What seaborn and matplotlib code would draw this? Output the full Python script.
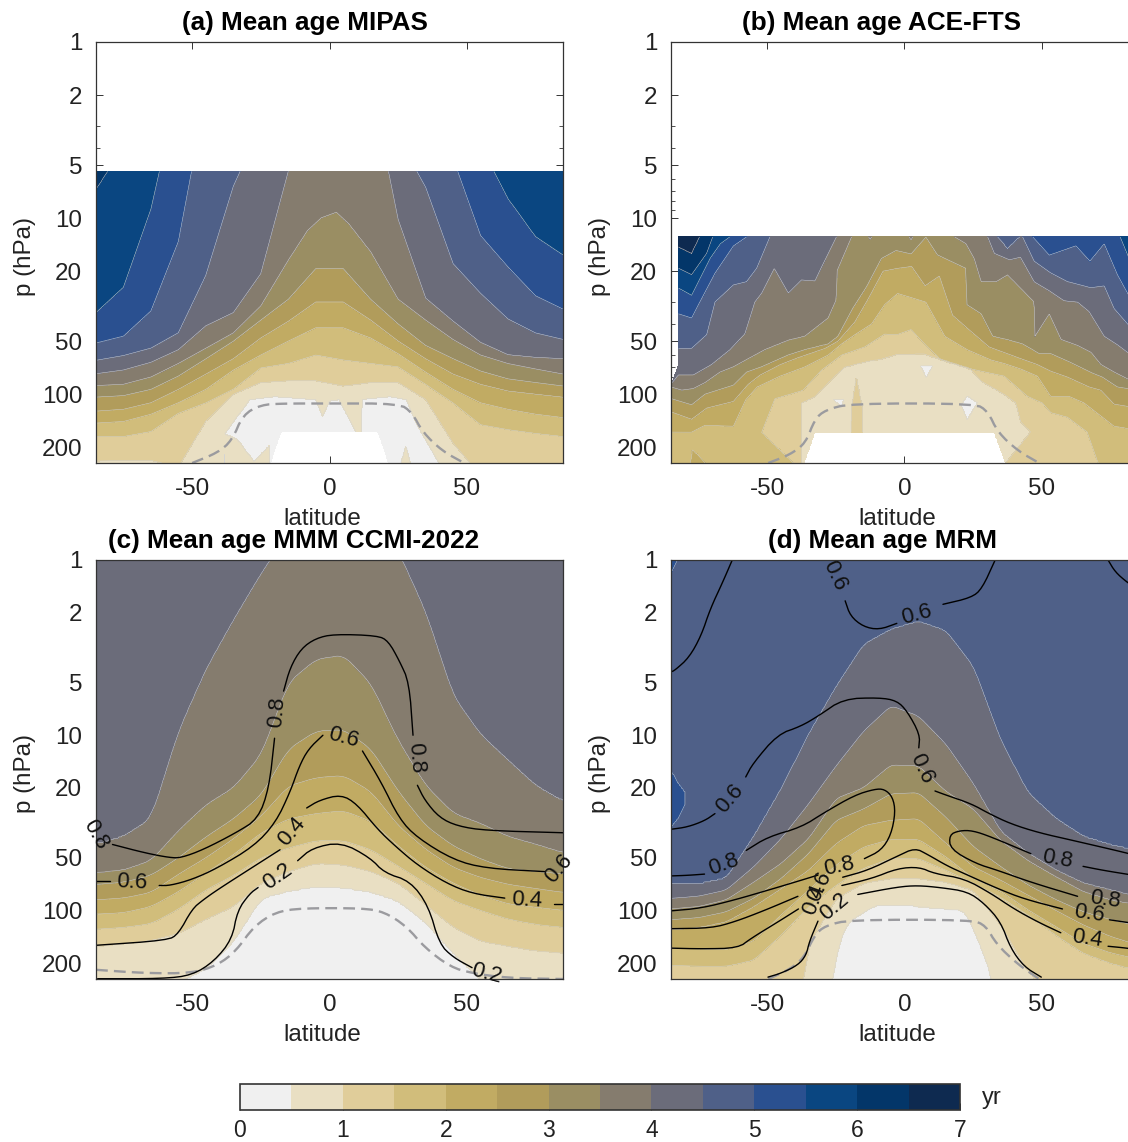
import numpy as np
import matplotlib
matplotlib.use("Agg")
import matplotlib.pyplot as plt
from matplotlib.colors import ListedColormap, BoundaryNorm
from matplotlib.cm import ScalarMappable
from matplotlib.ticker import FixedLocator, NullFormatter
import seaborn as sns

# band colours of the colour bar, 0 to 7 yr in steps of 0.5
band_colors = ["#f0f0f0", "#e9dfc3", "#e0cd9a", "#d1bd7b", "#c1ab63", "#b19c5b", "#9a8e63",
               "#857c6e", "#6b6c7a", "#4f6088", "#2a5090", "#0a4681", "#033669", "#0e2a50"]
age_bounds = np.arange(0, 7.5, 0.5)
p_ticks = [1, 2, 5, 10, 20, 50, 100, 200]
p_minor = [3, 4, 6, 7, 8, 9, 30, 40, 60, 70, 80, 90]
lat_ticks = [-50, 0, 50]
bar_ticks = [0, 1, 2, 3, 4, 5, 6, 7]

# Pressure (hPa) at which mean age crosses a given value, read per latitude.
# Values below 1 hPa or past the panel bottom only steer the crossing at the frame.
cols = [-85, -75, -65, -55, -45, -35, -25, -15, -5, 5, 15, 25, 35, 45, 55, 65, 75, 85]

# (a) MIPAS
a_p_60 = [6.9, 4, 2.5, .5, .5, .5, .5, .5, .5, .5, .5, .5, .5, .5, .5, .5, .5, .5]
a_p_55 = [34.6, 24.8, 8.9, 1.8, 1, .8, .6, .6, .6, .6, .6, .6, .7, 1, 3.9, 7.8, 12.8, 16.3]
a_p_50 = [51.4, 47, 33.8, 13.6, 2, 1.2, .8, .7, .6, .6, .7, .8, 1, 4.6, 12.6, 19, 27.7, 33]
a_p_45 = [64.4, 60.5, 55, 45, 21.2, 6.6, 3, 1.6, 1, 1, 1.4, 3.5, 6.7, 18.2, 26.8, 37.5, 45, 49]
a_p_40 = [76.7, 73, 66, 56, 41, 34.6, 20.8, 5.43, 2, 1, 1.7, 10.2, 28.6, 38.6, 51, 60, 62, 63]
a_lat_35 = [-85, -75, -65, -55, -45, -35, -25, -15, -8, -3, 2.5, 7, 15, 25, 35, 45, 55, 65, 75, 85]
a_p_35 = [89.5, 88, 80, 67, 55, 45, 31.6, 17.4, 11.8, 10, 9.3, 10.8, 15.6, 29, 38, 49, 60, 67, 72, 77]
a_p_30 = [104, 102, 94, 79, 63, 50, 38, 29, 19.4, 19.4, 29, 40, 53, 63, 74, 82, 86, 90]
a_p_25 = [125, 122, 112, 94, 77, 63, 48, 38.6, 30, 30, 38, 50, 63, 77, 88, 96, 100, 104]
a_p_20 = [146, 143, 130, 112, 94, 73, 60, 50, 42, 42, 48, 59, 75, 94, 112, 122, 130, 136]
a_p_15 = [174, 174, 163, 128, 112, 94, 71, 67, 60, 64, 67, 70, 88, 112, 149, 159, 167, 174]
a_p_10 = [240, 238, 238, 260, 142, 100, 86, 84, 84, 90, 86, 86, 107, 190, 290, 300, 300, 300]
a_lat_05 = [-85, -38.6, -38, -29, -20, -5, -2.5, 0, 3.5, 10.2, 11.6, 11.8, 13.5, 22, 28, 32, 40, 41, 85]
a_p_05 = [320, 320, 166, 107, 103, 107, 133, 109, 107, 170, 170, 107, 106, 103, 107, 150, 248, 320, 320]

# (b) ACE-FTS
b_lat_65 = [-85, -82.3, -77.5, -74.5, -65, 85]
b_p_65 = [14.5, 14.7, 16, 12.8, 8, 3]
b_lat_60 = [-85, -82.3, -77.5, -72, -69.8, -60, 0, 60, 85]
b_p_60 = [19, 19.3, 21, 15.9, 12.8, 8, 3, 6, 10]
b_lat_55 = [-85, -82.3, -77.5, -70.8, -67, -63.5, -50, 0, 60, 78.5, 81.2, 85]
b_p_55 = [24.5, 25, 27.5, 17, 14, 12.8, 8, 4, 8, 12.8, 16.2, 22]
b_lat_50 = [-85, -82.3, -77.5, -75, -69, -62.3, -57.5, -50, 0, 40, 46.6, 52.7, 62.4, 67.5, 72.7, 77.5, 81.2, 85]
b_p_50 = [34, 35, 37, 31, 20.6, 14.4, 12.8, 9, 5, 9, 12.8, 16.3, 14.4, 17.6, 14, 21, 26.8, 33]
b_lat_45 = [-85, -82.3, -77.5, -72, -69, -62.3, -57.5, -53.8, -49, -40, 0, 35, 43, 47.2, 53.2, 59.3, 67.8, 72.7, 76.3, 81.2, 85]
b_p_45 = [60, 55, 55, 46, 30, 24, 23, 19.3, 12.8, 9, 6, 9, 12.8, 17.6, 20.5, 23, 24.9, 24.3, 32.7, 40, 46]
b_lat_40 = [-85, -82.3, -76.9, -70.2, -63.5, -58.1, -54.5, -52, -47.4, -42.3, -37.5, -32.6, -30.2, -24.8, -20, 0, 20,
            30.3, 32.7, 38.2, 42.2, 47.2, 52.7, 58.1, 63, 67.2, 72.7, 77.5, 81.2, 85]
b_p_40 = [88, 78, 78, 68, 56, 45.5, 30, 26.7, 19.3, 26.7, 22.5, 22.8, 19, 12.8, 10, 8, 9,
          12.8, 15.9, 17.3, 16.7, 23, 25.9, 29.5, 30, 34, 47, 52.5, 58, 62]
b_lat_35 = [-85, -81.1, -76.9, -72.6, -67.2, -62.3, -56.9, -50.8, -42.3, -36.3, -27.8, -24.8, -24.6, -19.3, -15, -12.5,
            -10, 0, 2.4, 5, 18.2, 22.4, 25.4, 27.9, 33.3, 37.5, 47.2, 47.5, 52.7, 57, 63, 67.9, 71.5, 76.3, 85]
b_p_35 = [91, 95, 93, 86, 75, 70, 63, 56, 49.5, 47, 37, 29, 20, 12.8, 11.5, 13.2,
          11.5, 11.5, 13.4, 11, 12.8, 14, 17, 23, 23, 21, 30, 47, 35, 49, 53, 58, 68, 75, 88]
b_lat_30 = [-85, -77.5, -72.6, -62.3, -57.5, -52, -42.3, -36.3, -27.8, -24.2, -18.7, -13.8, -8.4, -3.1, 2.4, 7.8, 12,
            22.4, 22.6, 27.9, 32.1, 38.2, 43, 49.1, 53.3, 59.9, 68.4, 72, 77.5, 85]
b_p_30 = [106, 115, 100, 89, 75, 70, 60, 56, 52, 47, 32.4, 24.6, 17, 15.3, 16, 12.8, 16.2,
          19.3, 31, 35, 47, 49.5, 52, 59, 59, 65.5, 76, 80, 91, 95]
b_lat_25 = [-85, -77.5, -72, -62.3, -56.9, -52.6, -45.3, -38.7, -29, -24.2, -18.1, -13.2, -7.8, -2.5, 2.6, 7.5, 12.7,
            17.5, 22.9, 30.8, 37.5, 42.4, 48.4, 53.2, 59.3, 67.2, 71.5, 76.3, 85]
b_p_25 = [126, 139, 120, 110, 88, 78, 68, 62, 55, 50, 39, 28.7, 20, 19.3, 18.8, 24.3, 21.3,
          35.7, 42.3, 54, 59, 63, 68, 74, 80, 91, 95, 114, 120]
b_lat_20 = [-85, -77.5, -72.6, -62.3, -57.9, -53.7, -45.3, -36.3, -27.8, -23, -18.1, -12, -7.2, -2.5, 7.8, 14.7, 22.9,
            31.5, 36.3, 42.4, 48.4, 53.2, 59.9, 65.3, 71.5, 76.3, 85]
b_p_20 = [164, 164, 150, 152, 108, 91, 79, 70, 60, 52, 46, 40, 31, 26.8, 30, 47, 56,
          64, 67, 72, 79, 103, 103, 112, 133, 152, 160]
b_lat_15 = [-85, -52.2, -52, -47.2, -36.9, -30.2, -22.9, -14.5, -7.2, -2.7, 2.4, 7.8, 13.3, 24.1, 36.3, 44.8, 50.2,
            53.2, 59.3, 66.5, 70.4, 85]
b_p_15 = [320, 320, 165, 106, 95, 73, 60, 54, 45.6, 46, 43, 53, 64, 72, 79, 103, 112,
          127, 135, 164, 245, 400]
b_lat_10 = [-85, -37.7, -37.5, -32.6, -25.4, -21.7, -14.5, -8.4, -3, 7.2, 15.7, 24.1, 27.9, 36.3, 40.6, 42.4, 46, 46.2, 85]
b_p_10 = [320, 320, 112, 103, 79, 70, 65.5, 63, 59.5, 59, 65.5, 72, 84, 100, 112, 144, 164, 320, 320]

# (c) MMM CCMI-2022
c_p_40 = [42, 38, 30, 9.5, 4.2, 2.2, 1.2, .7, .6, .6, .7, .9, 2, 6, 10, 14, 19.5, 24]
c_p_35 = [61, 59, 52, 35, 25, 20, 13, 5, 3.7, 3.5, 5.1, 10.8, 19.5, 28, 32, 38, 42, 47]
c_p_30 = [71, 69, 63, 50, 38, 30, 22, 12, 9.5, 9.3, 12, 21, 33, 43, 51, 58, 60, 62]
c_p_25 = [87, 85, 79, 62, 50, 39, 29, 19.5, 17.5, 17, 21, 33, 45, 57, 65, 71, 75, 79]
c_p_20 = [105, 103, 95, 78, 61, 48, 36, 30, 28, 27, 31, 43, 57, 70, 82, 92, 96, 100]
c_p_15 = [128, 125, 119, 98, 76, 63, 50, 44, 40, 40, 45, 56, 70, 88, 100, 112, 120, 125]
c_p_10 = [160, 155, 148, 135, 112, 95, 70, 60, 54, 55, 60, 70, 93, 125, 150, 160, 170, 175]
c_p_05 = [300, 300, 280, 255, 215, 150, 85, 77, 73, 74, 78, 88, 117, 175, 250, 300, 320, 340]

# (d) MRM
d_p_45 = [71, 71, 65.8, 38, 20.3, 9.9, 5.3, 3.05, 2.5, 2.25, 2.55, 4.08, 10.8, 21.5, 30, 38, 42.5, 46]
d_p_40 = [85.5, 83, 76.6, 56.5, 39, 24.7, 15, 9.5, 6.8, 7.8, 11.3, 19, 35.7, 47.4, 59, 70, 76.6, 84]
d_p_35 = [98, 95, 87, 69, 54, 39, 23, 20, 14.8, 15, 21, 26.4, 40, 52, 64, 78, 87, 93]
d_p_30 = [113, 110, 102, 85.5, 65.8, 47.4, 30.6, 26.4, 21.6, 21.3, 29.4, 43.4, 56.5, 72, 87, 102, 113, 123]
d_p_25 = [129, 125, 116, 95, 75, 59, 41.5, 32.8, 30.6, 30, 41.5, 56.5, 67.4, 82, 100, 121, 141, 158]
d_p_20 = [164, 166, 168, 150, 106, 76.6, 55, 43.4, 39.3, 39.3, 49.5, 65.8, 78, 100, 124, 155, 175, 190]
d_p_15 = [205, 208, 208, 192, 138, 95, 72, 57.5, 50.6, 50.6, 59, 70, 84, 106, 138, 175, 200, 220]
d_lat_10 = [-85, -37, -36, -35, -25, -15, -5, 5, 15, 25, 35, 45, 48.4, 49, 85]
d_p_10 = [320, 320, 175, 157, 85.5, 70, 65.8, 65.8, 69, 76.6, 121, 228, 246, 320, 320]
d_lat_05 = [-85, -27, -26.5, -23.7, -20.6, -10.9, -2, 21.8, 26, 32, 32.5, 85]
d_p_05 = [320, 320, 245, 150, 116, 93.4, 92.4, 100, 138, 245, 320, 320]

# regions where the field breaks from the stacked crossings: lat, upper p, lower p, age
# (age None means no data)
a_spots = [
    ([-38, -33.5, -27.5, -22], [170, 182, 242, 198], [400, 400, 400, 400], .75),
    ([26, 27.8, 29.4], [248, 198, 248], [400, 400, 400], .75),
    ([-21.6, -17.6, 17.6, 21.6], [250, 164, 164, 250], [400, 400, 400, 400], None),
]
b_spots = [
    ([-85, -82.3], [1, 1], [88, 68], None),
    ([-52, -47.2, -40.5], [165, 195, 245], [400, 400, 400], 1.75),
    ([-78, -77.2, -72], [250, 206, 250], [400, 400, 400], 2.2),
    ([-19.3, -19.2, -17.5, -15.4, -15.3], [165, 120, 81.5, 120, 165], [400, 400, 400, 400, 400], 1.25),
    ([37, 46], [245, 164], [400, 400], 1.25),
    ([-26, -23, -22], [107, 107, 107], [107, 119, 107], .25),
    ([5.8, 7.9, 10.3], [69, 69, 69], [69, 81, 69], .25),
    ([20.6, 22.8, 26.6], [115, 102, 112], [115, 140, 112], .25),
    ([33.9, 37.5, 41.8], [10, 10, 10], [12.8, 14.9, 12.8], 4.7),
    ([-32.7, 32.7, 36.9], [166, 166, 250], [400, 400, 400], None),
    ([-36.6, -32.7], [250, 166], [400, 400], None),
]
c_spots = []
d_spots = [
    ([-85, -82.5], [.5, .5], [1.2, 1.0], 5.2),
    ([-85, -82.5, -80, -79.8], [15.8, 18.5, 21, 21.5], [33.6, 30, 25, 22], 5.2),
]

# black contours, each broken where its label sits
c_line_lat = [
    [-79, -67, -58, -54, -46, -34, -26, -22, -20],
    [-16.7, -14.3, -10.3, -5, 1.6, 17.5, 21.4, 25.4, 29, 30.4],
    [32, 34.7, 40, 46.6, 57, 85],
    [-85, -80],
    [-62, -58, -50, -41, -27.5, -19.6, -14.3, -11, -7.7, -2.4],
    [12, 18.8, 25.4, 32, 45.2, 57, 78.3],
    [-85, -59, -55, -50, -46, -40.7, -27.5, -18],
    [-8.3, -3.7, 4.2, 10, 17.5, 24, 32, 42.6, 51.9, 63.8],
    [81.6, 85],
    [-84.4, -60.6, -50, -42, -35.5, -33.5, -29, -26],
    [-11.6, -6.3, 4.2, 14.8, 20, 29.4, 36, 40, 45, 51.9],
]
c_line_p = [
    [42, 47, 50, 50, 45, 36, 30, 20, 10.4],
    [5.6, 4.1, 3.2, 2.8, 2.65, 2.7, 2.9, 3.75, 5, 10],
    [19.3, 23.5, 29.5, 33, 35, 36],
    [68, 68],
    [72, 72, 66.5, 57.5, 43, 31.5, 21, 15, 12, 10],
    [12.3, 18.5, 30, 38.5, 51.5, 57.5, 60],
    [158, 148, 136, 98, 87, 76, 56, 45],
    [26, 23.5, 21.8, 24.7, 34.4, 43, 55, 70, 80, 85],
    [92, 92],
    [245, 245, 234, 195, 146, 100, 80, 74],
    [52, 44, 40.7, 50, 61, 68, 94, 155, 185, 212],
]
c_label_text = ["0.8", "0.8", "0.8", "0.6", "0.6", "0.6", "0.4", "0.4", "0.2", "0.2"]
c_label_lat = [-85, -19, 31.5, -72, 5, 83.6, -13.6, 71.7, -18.9, 57]
c_label_p = [36.8, 7.4, 13.5, 69, 10.3, 58, 35.7, 88, 64, 230]
c_label_rot = [-60, 85, -85, -3, -15, 50, 50, -3, 35, -15]
c_tropo_lat = [-85, -67, -50, -40.7, -34, -27.5, -19.6, -10.3, 12.2, 20, 28, 34.7, 44, 51.9, 65, 85]
c_tropo_p = [218, 228, 228, 205, 170, 123, 102, 97, 97, 102, 123, 163, 210, 228, 243, 246]

d_line_lat = [
    [-62.7, -66.2, -70.7, -74, -78.4, -83.6, -85],
    [-21.6, -19.7, -15, -9.3, -2.8],
    [14, 24.3, 28.2, 33],
    [74.1, 76.7, 81, 85],
    [-85, -79, -72.7, -69],
    [-57.8, -55.2, -46.2, -37.8, -31.3, -22.3, -9.3, -2.8, 1, 5.6, 5.2],
    [11.1, 15.3, 24.3, 30.8, 38.6, 48.9, 61.8, 81, 85],
    [-85, -78.8, -72.8],
    [-57.6, -49.7, -37.6, -29, -18.2, -10.9, -7.3, -4.3, -3.3, -4.9, -8.5, -14.6],
    [-85, -74, -61.8, -49.7, -40, -31.5],
    [-22.5, -13.4, -2.5, 3.8, 8.5, 15.7, 21.8, 33.9, 43.6, 57.5],
    [-85, -70.3, -61.8, -51, -38.8],
    [-22.8, -12, -2.5, 5.4, 10.9, 21.8, 31.5, 39.9, 48.4, 56.9],
    [-85, -74, -60.6, -55.8, -46, -38.6],
    [-17, -2.5, 4.8, 13.2, 22.9, 29, 35, 38.6, 43.5, 49.8],
    [-31.5, -34.6, -35.8, -38.8, -44.9, -49.7],
    [46, 31.5, 24.8, 20, 16.3, 16.7, 26, 33.9, 46, 63],
    [65, 72.3, 83, 85],
    [82, 85],
    [74.6, 81.1, 85],
    [74.1, 81.1, 85],
]
d_line_p = [
    [1, 1.34, 1.9, 2.7, 3.6, 4.26, 4.35],
    [1.71, 2.09, 2.4, 2.5, 2.3],
    [1.79, 1.64, 1.46, 1],
    [1, 1.17, 1.34, 1.47],
    [34.4, 33.4, 30.7, 28],
    [17.3, 14.5, 9.9, 8.9, 7.75, 6.2, 6.1, 6.35, 7.3, 9.9, 11.8],
    [20.8, 22, 24.6, 28, 32, 36, 40, 47, 49],
    [63.5, 63, 62],
    [45.4, 38, 33.5, 27.5, 22, 20.3, 20.3, 22.5, 27.5, 37, 45.4, 50.6],
    [100.5, 97, 87, 76.6, 69, 62.8],
    [64.6, 59, 48.9, 44, 48, 55.8, 61.6, 75, 86, 98],
    [127, 126, 116, 100, 83],
    [72, 65.8, 57.5, 56.5, 61.6, 65.8, 80, 98, 116, 134],
    [164, 165.6, 164, 144, 116, 98],
    [81, 73.4, 72, 74, 78, 91, 116, 164, 209, 240],
    [115, 150, 180, 205, 228, 240],
    [47.4, 38, 35, 35, 37, 44.7, 54, 59, 69, 83],
    [56, 59, 62.8, 63.5],
    [92, 94],
    [113, 117, 119],
    [160, 164, 168],
]
d_label_text = ["0.6", "0.6", "0.6", "0.6", "0.8", "0.8", "0.6", "0.4", "0.2", "0.8", "0.8", "0.6", "0.4"]
d_label_lat = [-25.5, 4.3, -63.6, 6.2, -65.7, -23.7, -31, -32.8, -25.5, 55.7, 73, 67.2, 66.4]
d_label_p = [1.23, 2.05, 23, 15.5, 54.8, 55.8, 73.4, 87, 95, 51, 87, 104, 144]
d_label_rot = [-65, 15, 50, -65, 20, 12, 65, 70, 40, -10, -8, -8, -8]
d_tropo_lat = [-49.6, -41.8, -36.6, -32.7, -28.8, -19.7, 24.4, 29.6, 33.5, 41.3, 49]
d_tropo_p = [246, 217, 186, 138, 122, 113, 113, 122, 156, 203, 246]

a_tropo_lat = [-50, -40.7, -35.5, -31.5, -25, -17, -1, 25.4, 30, 34, 41, 49]
a_tropo_p = [246, 215, 183, 131, 115, 113, 113, 113, 127, 165, 210, 246]
b_tropo_lat = [-49.6, -41.8, -36, -32.7, -28.8, -19.7, 25.7, 30.3, 34, 41.3, 49]
b_tropo_p = [246, 221, 190, 139, 123, 113, 113, 125, 165, 210, 246]

p_bottom = 246.0
lat_grid = np.arange(-85, 85.01, 0.25)


def round_corners(lat, p, passes=2):
    # corner cutting in lat / log p, the read vertices are too sparse for a smooth curve
    x, y = np.asarray(lat, float), np.log10(p)
    for _ in range(passes):
        x0, y0 = x[:-1], y[:-1]
        x1, y1 = x[1:], y[1:]
        x = np.r_[x[0], np.c_[.75 * x0 + .25 * x1, .25 * x0 + .75 * x1].ravel(), x[-1]]
        y = np.r_[y[0], np.c_[.75 * y0 + .25 * y1, .25 * y0 + .75 * y1].ravel(), y[-1]]
    return x, 10 ** y


def build_age(levels, lats, presses, p_top, top_age, bottom_age, spots, blur=0):
    # turn the crossing curves into an age field on a lat / log p grid
    rows = np.geomspace(p_top, 250, 300)
    curves = np.array([np.interp(lat_grid, la, np.log10(pr)) for la, pr in zip(lats, presses)])
    if blur:
        kernel = np.ones(blur) / blur
        curves = np.array([np.convolve(np.pad(cu, blur, mode="edge"), kernel, mode="same")[blur:-blur]
                           for cu in curves])
    curves = np.minimum.accumulate(curves, axis=0)
    curves -= np.arange(len(levels))[:, None] * 1e-4
    ages = np.array(levels, dtype=float)
    field = np.zeros((rows.size, lat_grid.size))
    for j in range(lat_grid.size):
        xp = np.r_[-3, curves[::-1, j], 3.5]
        fp = np.r_[top_age, ages[::-1], bottom_age]
        field[:, j] = np.interp(np.log10(rows), xp, fp)
    lat2, row2 = np.meshgrid(lat_grid, rows)
    for la, up, lo, age in spots:
        inside = (lat2 >= la[0]) & (lat2 <= la[-1])
        upper = np.interp(lat2, la, np.log10(up))
        lower = np.interp(lat2, la, np.log10(lo))
        inside &= (np.log10(row2) >= upper) & (np.log10(row2) <= lower)
        field[inside] = np.nan if age is None else age
    return rows, field


def draw_panel(rect, title, title_x, rows, field, tropo_lat, tropo_p,
               line_lat=(), line_p=(), lab_text=(), lab_lat=(), lab_p=(), lab_rot=()):
    l, t, r, b = rect
    ax = fig.add_axes([l / 1128, 1 - b / 1142, (r - l) / 1128, (b - t) / 1142])
    ax.contourf(lat_grid, rows, field, levels=age_bounds, cmap=cmap, norm=norm)
    ax.contour(lat_grid, rows, field, levels=age_bounds[1:-1], colors="#d4d4d4", linewidths=0.35)
    ax.set_yscale("log")
    tx, ty = round_corners(tropo_lat, tropo_p)
    sns.lineplot(x=tx, y=ty, sort=False, estimator=None, color="#9b9b9f", lw=1.7,
                 linestyle=(0, (5, 2.6)), legend=False, ax=ax)
    for la, pr in zip(line_lat, line_p):
        lx, ly = round_corners(la, pr)
        sns.lineplot(x=lx, y=ly, sort=False, estimator=None, color="black", lw=1, legend=False, ax=ax)
    for s, la, pr, rot in zip(lab_text, lab_lat, lab_p, lab_rot):
        ax.text(la, pr, s, rotation=rot, rotation_mode="anchor", ha="center", va="center",
                fontsize=16, color="#111111", zorder=5)
    ax.set_xlim(-85, 85)
    ax.set_ylim(p_bottom, 1)
    ax.set_xticks(lat_ticks)
    ax.set_yticks(p_ticks)
    ax.set_yticklabels([str(v) for v in p_ticks])
    ax.yaxis.set_minor_locator(FixedLocator(p_minor))
    ax.yaxis.set_minor_formatter(NullFormatter())
    ax.tick_params(axis="both", which="major", direction="in", length=5, width=0.7, top=True, right=True,
                   labelsize=17.4, labelcolor="#222222", color="#333333")
    ax.tick_params(axis="y", which="major", pad=10)
    ax.tick_params(axis="x", which="major", pad=11)
    ax.tick_params(axis="y", which="minor", direction="in", length=2.8, width=0.6, left=True, right=True,
                   color="#333333")
    for side in ax.spines.values():
        side.set_linewidth(0.9)
        side.set_color("#333333")
    ax.set_xlabel("latitude", fontsize=17.4, color="#222222")
    ax.set_ylabel("p (hPa)", fontsize=17.4, color="#222222")
    ax.xaxis.set_label_coords(0.484, -56 / (b - t), transform=ax.transAxes)
    ax.xaxis.label.set_va("center")
    ax.yaxis.set_label_coords(-71 / (r - l), 0.49, transform=ax.transAxes)
    ax.yaxis.label.set_va("center")
    ax.set_title(title, x=title_x, fontsize=18.8, fontweight="bold", pad=8.5, color="black")
    return ax


sns.set_theme(style="ticks")
plt.rcParams["font.family"] = ["Liberation Sans", "DejaVu Sans"]
plt.rcParams["axes.unicode_minus"] = False
cmap = ListedColormap(sns.color_palette(band_colors))
norm = BoundaryNorm(age_bounds, cmap.N)

fig = plt.figure(figsize=(11.28, 11.42), dpi=100)

rows_a, age_a = build_age(
    [.5, 1, 1.5, 2, 2.5, 3, 3.5, 4, 4.5, 5, 5.5, 6],
    [a_lat_05, cols, cols, cols, cols, cols, a_lat_35, cols, cols, cols, cols, cols],
    [a_p_05, a_p_10, a_p_15, a_p_20, a_p_25, a_p_30, a_p_35, a_p_40, a_p_45, a_p_50, a_p_55, a_p_60],
    5.43, 6.3, .2, a_spots)
rows_b, age_b = build_age(
    [1, 1.5, 2, 2.5, 3, 3.5, 4, 4.5, 5, 5.5, 6, 6.5],
    [b_lat_10, b_lat_15, b_lat_20, b_lat_25, b_lat_30, b_lat_35, b_lat_40, b_lat_45, b_lat_50, b_lat_55, b_lat_60, b_lat_65],
    [b_p_10, b_p_15, b_p_20, b_p_25, b_p_30, b_p_35, b_p_40, b_p_45, b_p_50, b_p_55, b_p_60, b_p_65],
    12.8, 6.8, .75, b_spots)
rows_c, age_c = build_age(
    [.5, 1, 1.5, 2, 2.5, 3, 3.5, 4],
    [cols] * 8,
    [c_p_05, c_p_10, c_p_15, c_p_20, c_p_25, c_p_30, c_p_35, c_p_40],
    1, 4.3, .2, c_spots, blur=24)
rows_d, age_d = build_age(
    [.5, 1, 1.5, 2, 2.5, 3, 3.5, 4, 4.5],
    [d_lat_05, d_lat_10, cols, cols, cols, cols, cols, cols, cols],
    [d_p_05, d_p_10, d_p_15, d_p_20, d_p_25, d_p_30, d_p_35, d_p_40, d_p_45],
    1, 4.8, .2, d_spots, blur=16)

draw_panel((96, 42, 563, 463), "(a) Mean age MIPAS", .4475, rows_a, age_a, a_tropo_lat, a_tropo_p)
draw_panel((671, 42, 1138, 463), "(b) Mean age ACE-FTS", .451, rows_b, age_b, b_tropo_lat, b_tropo_p)
draw_panel((96, 560, 563, 979), "(c) Mean age MMM CCMI-2022", .422, rows_c, age_c, c_tropo_lat, c_tropo_p,
           c_line_lat, c_line_p, c_label_text, c_label_lat, c_label_p, c_label_rot)
draw_panel((671, 560, 1138, 979), "(d) Mean age MRM", .452, rows_d, age_d, d_tropo_lat, d_tropo_p,
           d_line_lat, d_line_p, d_label_text, d_label_lat, d_label_p, d_label_rot)

cax = fig.add_axes([240 / 1128, 1 - 1110 / 1142, 720 / 1128, 26 / 1142])
bar = fig.colorbar(ScalarMappable(norm=norm, cmap=cmap), cax=cax, orientation="horizontal",
                   ticks=bar_ticks, spacing="proportional")
bar.ax.set_xticklabels([str(v) for v in bar_ticks])
bar.ax.tick_params(axis="x", direction="in", length=5, width=0.7, labelsize=16.5, pad=6.5,
                   labelcolor="#222222", color="#333333")
bar.ax.minorticks_off()
bar.outline.set_linewidth(1.2)
bar.outline.set_edgecolor("#333333")
fig.text(992 / 1128, 1 - 1098 / 1142, "yr", fontsize=17, color="#222222", ha="center", va="center")

fig.savefig("out.png", dpi=100)
